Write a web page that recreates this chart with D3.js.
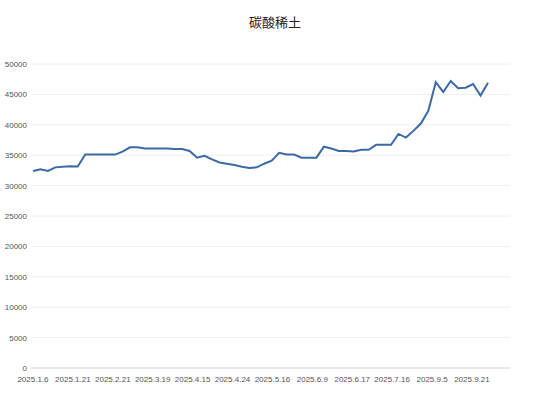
<!DOCTYPE html>
<html><head><meta charset="utf-8">
<script src="https://cdn.jsdelivr.net/npm/d3@7"></script>
<style>body{margin:0;background:#fff}</style>
</head><body><svg id="c" width="544" height="406"></svg>
<script>
// price series
const prices = [32400,32700,32400,33000,33100,33200,33150,35100,35100,35100,35100,35100,35600,36300,36300,36100,36100,36100,36100,36000,36000,35700,34600,34900,34300,33800,33600,33400,33100,32900,33000,33600,34100,35400,35100,35100,34600,34600,34600,36400,36100,35700,35700,35600,35900,35900,36700,36700,36700,38500,37900,39000,40200,42300,47000,45400,47200,46000,46100,46700,44800,46900];
const tickLabels = ["2025.1.6","2025.1.21","2025.2.21","2025.3.19","2025.4.15","2025.4.24","2025.5.16","2025.6.9","2025.6.17","2025.7.16","2025.9.5","2025.9.21"];
const tickIdx = [0,5.35,10.7,16.05,21.4,26.75,32.1,37.45,42.8,48.15,53.5,58.85];
const yTicks = [0,5000,10000,15000,20000,25000,30000,35000,40000,45000,50000];

const svg = d3.select("#c");
const x = d3.scaleLinear().domain([0, prices.length-1]).range([33, 488]);
const y = d3.scaleLinear().domain([0,50000]).range([368, 64]);

svg.append("text").attr("x",275).attr("y",27).attr("text-anchor","middle")
  .style("font-family","'Noto Sans CJK SC'").style("font-size","13px").attr("fill","#222").text("碳酸稀土");

svg.append("g").selectAll("line").data(yTicks).join("line")
  .attr("x1",31).attr("x2",510).attr("y1",d=>y(d)).attr("y2",d=>y(d))
  .attr("stroke",d=>d===0?"#d0d0d0":"#eeeeee");
svg.append("g").selectAll("text").data(yTicks).join("text")
  .attr("x",27).attr("y",d=>y(d)+3).attr("text-anchor","end")
  .style("font-family","'Liberation Sans'").style("font-size","8px").attr("fill","#555").text(d=>d);
svg.append("g").selectAll("text").data(tickLabels).join("text")
  .attr("x",(d,i)=>x(tickIdx[i])).attr("y",382).attr("text-anchor","middle")
  .style("font-family","'Liberation Sans'").style("font-size","8px").attr("fill","#555").text(d=>d);

svg.append("path").datum(prices)
  .attr("d", d3.line().x((d,i)=>x(i)).y(d=>y(d)))
  .attr("fill","none").attr("stroke","#3c6aa5").attr("stroke-width",2);
</script></body></html>
